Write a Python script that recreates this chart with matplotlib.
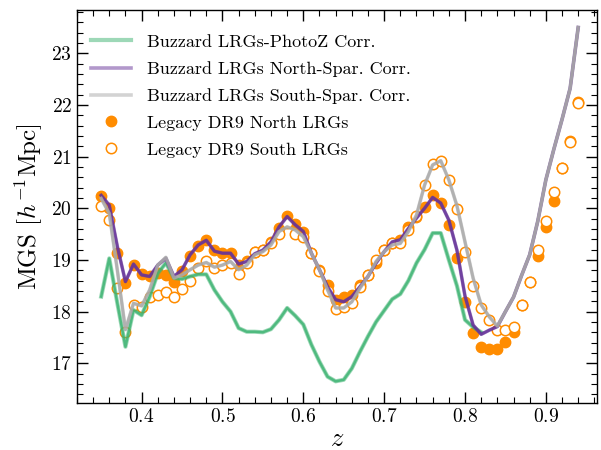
import numpy as np
import matplotlib
matplotlib.use("Agg")
import matplotlib.pyplot as plt

plt.rcParams['font.family'] = 'serif'
plt.rcParams['font.serif'] = ['cmr10', 'DejaVu Serif']
plt.rcParams['mathtext.fontset'] = 'cm'
plt.rcParams['axes.formatter.use_mathtext'] = True
plt.rcParams['axes.unicode_minus'] = False

z = np.round(np.arange(0.35, 0.945, 0.01), 2)

photoz = [18.29, 19.03, 18.16, 17.32, 18.03, 17.93, 18.29, 18.74, 18.94, 18.65,
          18.63, 18.68, 18.72, 18.72, 18.42, 18.19, 18.00, 17.68, 17.61, 17.61,
          17.60, 17.66, 17.84, 18.07, 17.92, 17.75, 17.36, 17.03, 16.74, 16.65,
          16.68, 16.90, 17.22, 17.52, 17.80, 18.02, 18.24, 18.34, 18.60, 18.94,
          19.20, 19.52, 19.52, 19.00, 18.50, 17.84, 17.70, 17.60]

south_spar = [20.19, 19.90, 18.80, 17.65, 18.16, 18.11, 18.42, 18.90, 19.05, 18.65,
              18.71, 18.81, 18.90, 18.95, 18.86, 18.90, 18.97, 18.81, 18.90, 19.10,
              19.16, 19.29, 19.55, 19.64, 19.58, 19.45, 19.13, 18.81, 18.42, 18.07,
              18.07, 18.19, 18.45, 18.68, 18.97, 19.16, 19.29, 19.32, 19.55, 19.87,
              20.45, 20.84, 20.92, 20.55, 20.05, 19.35, 18.65, 18.13, 17.90, 17.72,
              18.00, 18.28, 18.70, 19.10, 19.75, 20.55, 21.15, 21.72, 22.32, 23.50]

north_spar = [20.25, 20.06, 19.26, 18.58, 18.92, 18.71, 18.68, 18.90, 19.03, 18.68,
              18.81, 19.10, 19.29, 19.38, 19.17, 19.13, 19.13, 18.92, 18.97, 19.12,
              19.19, 19.35, 19.64, 19.84, 19.68, 19.55, 19.13, 18.81, 18.48, 18.23,
              18.19, 18.29, 18.48, 18.68, 18.94, 19.16, 19.35, 19.39, 19.61, 19.81,
              20.00, 20.21, 20.10, 19.77, 19.19, 18.30, 17.74, 17.56, 17.64, 17.71,
              18.00, 18.28, 18.70, 19.10, 19.75, 20.55, 21.15, 21.72, 22.32, 23.50]

north_data = [20.24, 20.00, 19.14, 18.56, 18.90, 18.72, 18.68, 18.74, 18.70, 18.58,
              18.78, 19.08, 19.27, 19.38, 19.20, 19.13, 19.13, 18.90, 18.97, 19.15,
              19.20, 19.35, 19.62, 19.85, 19.70, 19.55, 19.13, 18.81, 18.52, 18.22,
              18.29, 18.32, 18.52, 18.71, 18.94, 19.19, 19.32, 19.39, 19.64, 19.84,
              20.03, 20.26, 20.10, 19.68, 19.03, 18.19, 17.59, 17.32, 17.28, 17.28,
              17.41, 17.60, 18.13, 18.58, 19.08, 19.63, 20.15, 20.77, 21.31, 22.05]

south_data = [20.04, 19.77, 18.45, 17.60, 18.13, 18.08, 18.28, 18.32, 18.37, 18.28,
              18.44, 18.60, 18.85, 18.98, 18.85, 18.90, 18.94, 18.73, 18.94, 19.15,
              19.20, 19.32, 19.51, 19.71, 19.51, 19.45, 19.13, 18.78, 18.39, 18.05,
              18.08, 18.16, 18.48, 18.71, 19.00, 19.19, 19.32, 19.33, 19.58, 19.85,
              20.45, 20.86, 20.92, 20.55, 19.98, 19.15, 18.49, 18.07, 17.83, 17.65,
              17.65, 17.71, 18.12, 18.58, 19.19, 19.75, 20.31, 20.77, 21.29, 22.03]

labels = ['Buzzard LRGs-PhotoZ Corr.', 'Buzzard LRGs North-Spar. Corr.',
          'Buzzard LRGs South-Spar. Corr.', 'Legacy DR9 North LRGs',
          'Legacy DR9 South LRGs']

fig = plt.figure(figsize=(6.01, 4.5), dpi=100)
ax = fig.add_axes([0.128, 0.1044, 0.865, 0.8736])

zp = z[:len(photoz)]
lw = 2.6
ax.plot(zp, photoz, color='mediumseagreen', alpha=0.5, lw=lw + 0.4, zorder=3, label=labels[0])
ax.plot(zp, photoz, color='mediumseagreen', alpha=0.8, lw=lw - 0.8, zorder=3)
ax.plot(z, north_spar, color='rebeccapurple', alpha=0.5, lw=lw, zorder=4, label=labels[1])
ax.plot(z, north_spar, color='rebeccapurple', alpha=0.85, lw=lw - 0.5, zorder=4)
ax.plot(z, south_spar, color='darkgray', alpha=0.5, lw=lw, zorder=5, label=labels[2])
ax.plot(z, south_spar, color='darkgray', alpha=0.8, lw=lw - 0.5, zorder=5)

ax.plot(z, north_data, 'o', color='darkorange', ms=7.5, zorder=1, label=labels[3])
ax.plot(z, south_data, 'o', mfc='white', mec='darkorange', mew=1.1, ms=7.5, zorder=2,
        label=labels[4])

ax.set_xlim(0.32, 0.963)
ax.set_ylim(16.23, 23.84)
ax.set_xticks([0.4, 0.5, 0.6, 0.7, 0.8, 0.9])
ax.set_yticks([17, 18, 19, 20, 21, 22, 23])
ax.xaxis.set_minor_locator(matplotlib.ticker.MultipleLocator(0.02))
ax.yaxis.set_minor_locator(matplotlib.ticker.MultipleLocator(0.2))
ax.tick_params(which='both', direction='in', top=True, right=True, labelsize=14)
ax.tick_params(which='major', length=8, width=1)
ax.tick_params(which='minor', length=4, width=0.8)
for s in ax.spines.values():
    s.set_linewidth(1.0)

ax.set_xlabel('$z$', fontsize=19, labelpad=1)
ax.set_ylabel('MGS [$h^{-1}$Mpc]', fontsize=18)

leg = ax.legend(loc='upper left', frameon=False, fontsize=13, handlelength=2.2,
                handletextpad=0.9, borderaxespad=0.4, labelspacing=0.62,
                bbox_to_anchor=(0.0, 0.975))

fig.savefig('out.png', dpi=100)
